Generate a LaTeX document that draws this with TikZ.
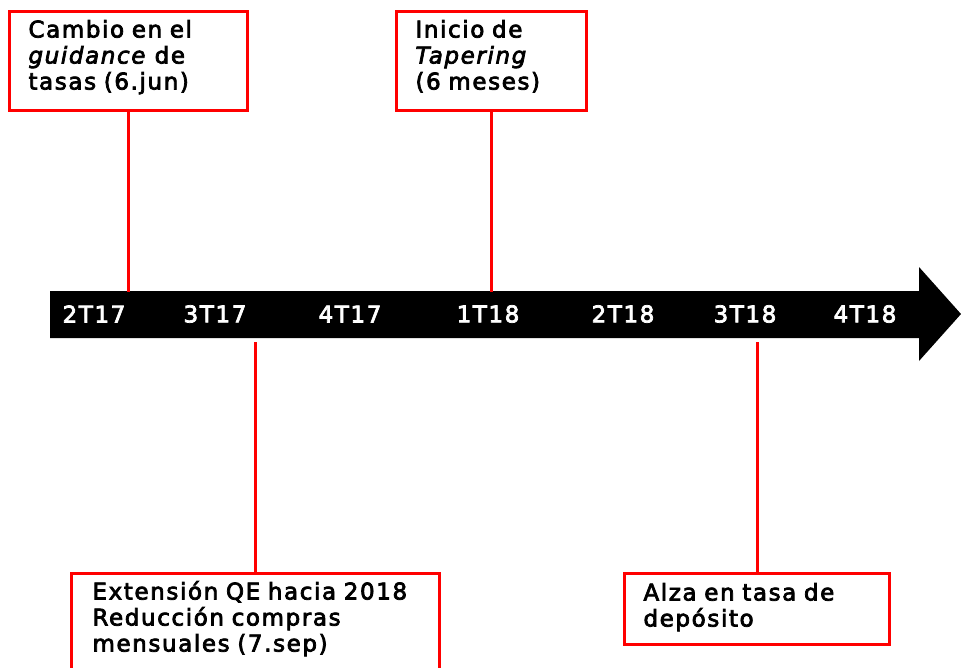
\documentclass[tikz,border=0pt]{standalone}
\usepackage{fontspec}
\setmainfont[FakeBold=3.2, LetterSpace=7]{DejaVu Sans}
\usepackage{tikz}

\tikzset{
  eventbox/.style={draw=red, line width=3pt, fill=white, anchor=north west, align=left, inner ysep=0pt, font=\fontsize{23}{26}\selectfont},
  eventline/.style={red, line width=3pt},
  quarter/.style={white, font=\fontsize{23}{26}\selectfont}
}

\begin{document}
\begin{tikzpicture}[x=1pt, y=-1pt]
\useasboundingbox (0,0) rectangle (961,667);
\fill[black](50,291) -- (919,291) -- (919,267) -- (961,314) -- (919,361) -- (919,338) -- (50,338) -- cycle;
\foreach \x/\t [count=\i] in {94/2T17,215/3T17,350/4T17,488/1T18,623/2T18,745/3T18,865/4T18}\node[quarter] (Q\i) at (\x,314) {\t};
\node[eventbox, inner xsep=19pt, text width=200pt, text height=26pt, text depth=73pt] (Guidance) at (8,10) {Cambio en el\\\emph{guidance} de\\tasas (6.jun)};
\node[eventbox, inner xsep=19pt, text width=152pt, text height=26pt, text depth=73pt] (Tapering) at (395,10) {Inicio de\\\emph{Tapering}\\(6 meses)};
\node[eventbox, inner xsep=21pt, text width=326pt, text height=26pt, text depth=102pt] (Extension) at (70,572) {Extensión QE hacia 2018\\Reducción compras\\mensuales (7.sep)};
\node[eventbox, inner xsep=19pt, text width=227pt, text height=27pt, text depth=44pt] (Deposito) at (623,572) {Alza en tasa de\\depósito};
\coordinate (Guidance end) at (Guidance.south |- 0,292);
\coordinate (Tapering end) at (Tapering.south |- 0,292);
\coordinate (Extension end) at (Extension.north |- 0,342);
\coordinate (Deposito end) at (Deposito.north |- 0,342);
\draw[eventline] (Guidance) -- (Guidance end);
\draw[eventline] (Tapering) -- (Tapering end);
\draw[eventline] (Extension) -- (Extension end);
\draw[eventline] (Deposito) -- (Deposito end);
\end{tikzpicture}
\end{document}
